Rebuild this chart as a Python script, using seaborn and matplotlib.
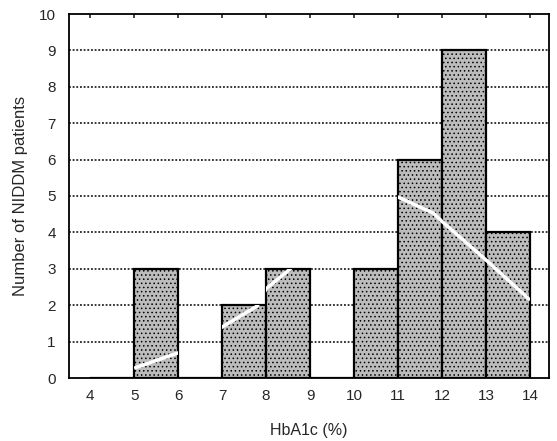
import matplotlib
matplotlib.use("Agg")
import matplotlib.pyplot as plt
import seaborn as sns
import numpy as np

# Data
bin_edges = [4, 5, 6, 7, 8, 9, 10, 11, 12, 13, 14]
bin_counts = [0, 3, 0, 2, 3, 0, 3, 6, 9, 4]
curve_x = [5.0, 6.0, 7.0, 7.8, 8.0, 8.5, 9.0, 10.0, 10.8, 11.0, 11.8, 12.0, 13.0, 14.0]
curve_y = [0.27, 0.69, 1.4, 1.98, 2.45, 2.95, 3.5, 4.5, 5.0, 4.97, 4.53, 4.3, 3.24, 2.14]
x_ticks = [4, 5, 6, 7, 8, 9, 10, 11, 12, 13, 14]
y_ticks = [0, 1, 2, 3, 4, 5, 6, 7, 8, 9, 10]

sns.set_style("white")
plt.rcParams['font.family'] = ['Liberation Sans', 'DejaVu Sans']
plt.rcParams['hatch.color'] = "#999999"
plt.rcParams['hatch.linewidth'] = 0.6

fig = plt.figure(figsize=(5.57, 4.41), dpi=100)
ax = fig.add_axes([69/557, 1 - 378/441, (549-69)/557, (378-14)/441])

centers = [(bin_edges[i] + bin_edges[i+1]) / 2 for i in range(len(bin_counts))]
sns.histplot(x=centers, weights=bin_counts, bins=bin_edges, ax=ax,
             color="#bcbcbc", alpha=1, edgecolor="black", linewidth=1.6, zorder=2)
for p in ax.patches:
    p.set_hatch("....")
    p.set_edgecolor("black")

# gridlines behind bars
for yv in y_ticks[1:-1]:
    ax.axhline(yv, color="black", linestyle=(0, (1.2, 1.2)), linewidth=1.1, zorder=1)

# white fitted curve, visible only over bars
for p in list(ax.patches):
    if p.get_height() > 0:
        ln, = ax.plot(curve_x, curve_y, color="white", linewidth=2.5, zorder=3,
                      solid_capstyle="butt")
        ln.set_clip_path(p)

ax.set_xlim(3.52, 14.43)
ax.set_ylim(0, 10)
ax.set_xticks(x_ticks)
ax.set_yticks(y_ticks)
ax.tick_params(axis="x", which="both", top=True, bottom=False, direction="in",
               length=3, width=1.2, labelsize=11, pad=8)
ax.tick_params(axis="y", left=False, labelsize=11, pad=6)
for s in ax.spines.values():
    s.set_color("black")
    s.set_linewidth(1.3)
ax.set_xlabel("HbA1c (%)", fontsize=11.5, labelpad=14)
ax.set_ylabel("Number of NIDDM patients", fontsize=12, labelpad=8)

fig.savefig("out.png", dpi=100)
